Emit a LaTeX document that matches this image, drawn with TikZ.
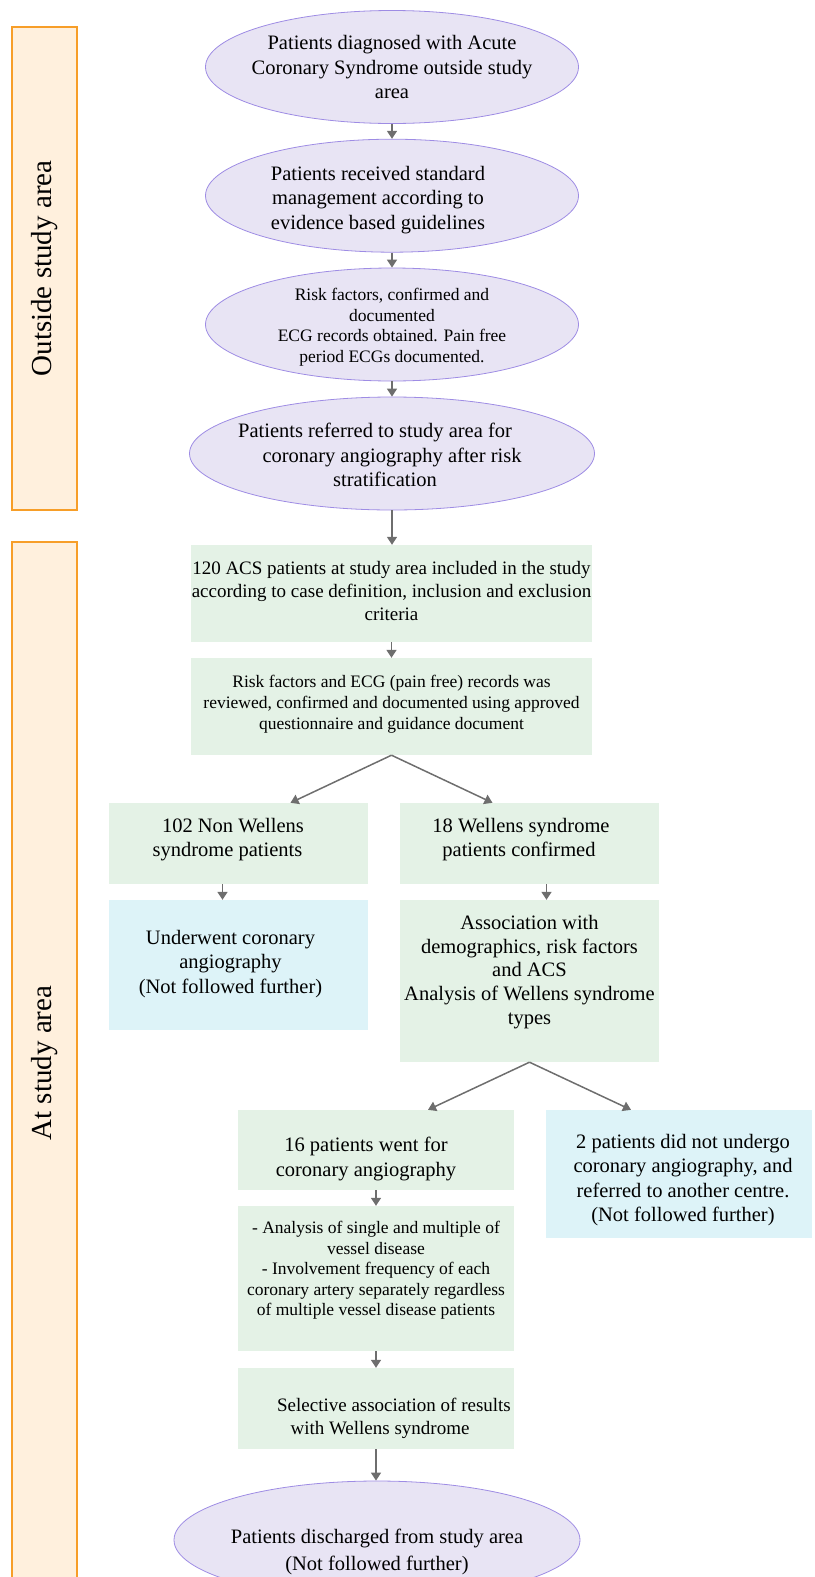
\documentclass[tikz,border=0pt]{standalone}
\usepackage{fontspec}
\setmainfont{Liberation Serif}
\usetikzlibrary{shapes.geometric,arrows.meta}

\definecolor{ovalfill}{RGB}{232,228,244}
\definecolor{ovalline}{RGB}{158,140,228}
\definecolor{boxgreen}{RGB}{228,242,230}
\definecolor{boxblue}{RGB}{221,243,248}
\definecolor{barfill}{RGB}{255,240,221}
\definecolor{barline}{RGB}{247,158,40}
\definecolor{arrowgray}{RGB}{110,110,110}

\tikzset{
    oval/.style={ellipse, draw=ovalline, fill=ovalfill, line width=0.8pt, minimum width=373pt, minimum height=113pt, inner sep=0pt},
    greenbox/.style={rectangle, fill=boxgreen, inner sep=0pt},
    bluebox/.style={greenbox, fill=boxblue},
    boxtext/.style={align=center, inner sep=0pt, font=\fontsize{20.5}{24.4}\selectfont},
    smalltext/.style={boxtext, font=\fontsize{17.5}{20.5}\selectfont},
    sidebar/.style={rectangle, draw=barline, fill=barfill, line width=1.3pt, rotate=90, minimum height=65pt, inner sep=0pt, font=\fontsize{29}{34}\selectfont},
    flow/.style={draw=arrowgray, line width=1.5pt, -{Triangle[length=8pt,width=10pt]}},
}

\begin{document}
\begin{tikzpicture}[x=1pt,y=-1pt]
    \useasboundingbox (0,0) rectangle (814,1577);

    % side bars
    \node[sidebar, minimum width=483pt] (outside) at (44.5,268.5) {Outside study area};
    \node[sidebar, minimum width=1042pt] (atarea) at (44.5,1063) {At study area};

    % outside study area
    \node[oval] (e1) at (392,67) {};
    \node[boxtext] (e1t) at (e1.center) {Patients diagnosed with Acute\\Coronary Syndrome outside study\\area};
    \node[oval] (e2) at (392,195.7) {};
    \node[boxtext, xshift=-14pt, yshift=-4pt] (e2t) at (e2.center) {Patients received standard\\management according to\\evidence based guidelines};
    \node[oval] (e3) at (392,324.5) {};
    \node[smalltext, yshift=-2.5pt] (e3t) at (e3.center) {Risk factors, confirmed and\\documented\\ECG records obtained. Pain free\\period ECGs documented.};
    \node[oval, minimum width=405pt] (e4) at (392,453.5) {};
    \node[boxtext, yshift=-1.5pt] (e4t) at (e4.center) {Patients referred to study area for\hspace*{34pt}\\coronary angiography after risk\hspace*{28pt}\\stratification\hspace*{14pt}};

    % at study area
    \node[greenbox, minimum width=401pt, minimum height=97pt] (box1) at (391.5,593.5) {};
    \node[boxtext, font=\fontsize{19}{23}\selectfont, yshift=3pt] (box1t) at (box1.center) {120 ACS patients at study area included in the study\\according to case definition, inclusion and exclusion\\criteria};
    \node[greenbox, minimum width=401pt, minimum height=97pt] (box2) at (391.5,706.5) {};
    \node[boxtext, font=\fontsize{17.5}{21}\selectfont, yshift=2pt] (box2t) at (box2.center) {Risk factors and ECG (pain free) records was\\reviewed, confirmed and documented using approved\\questionnaire and guidance document};
    \node[greenbox, minimum width=259pt, minimum height=81pt] (box3) at (238.5,843.5) {};
    \node[boxtext, yshift=4pt] (box3t) at (box3.center) {102 Non Wellens\hspace*{11pt}\\syndrome patients\hspace*{22pt}};
    \node[greenbox, minimum width=259pt, minimum height=81pt] (box4) at (529.5,843.5) {};
    \node[boxtext, yshift=4pt] (box4t) at (box4.center) {18 Wellens syndrome\hspace*{17pt}\\patients confirmed\hspace*{21pt}};
    \node[bluebox, minimum width=259pt, minimum height=130pt] (box5) at (238.5,965) {};
    \node[boxtext, xshift=-8pt, yshift=1pt] (box5t) at (box5.center) {Underwent coronary\\angiography\\(Not followed further)};
    \node[greenbox, minimum width=259pt, minimum height=162pt] (box6) at (529.5,981) {};
    \node[boxtext, font=\fontsize{20.5}{23.8}\selectfont, yshift=9pt] (box6t) at (box6.center) {Association with\\demographics, risk factors\\and ACS\\Analysis of Wellens syndrome\\types};
    \node[greenbox, minimum width=276pt, minimum height=80pt] (box7) at (376,1150) {};
    \node[boxtext, xshift=-10pt, yshift=-9pt] (box7t) at (box7.center) {16 patients went for\\coronary angiography};
    \node[bluebox, minimum width=266pt, minimum height=128pt] (box8) at (679,1174) {};
    \node[boxtext, xshift=4pt, yshift=-6pt] (box8t) at (box8.center) {2 patients did not undergo\\coronary angiography, and\\referred to another centre.\\(Not followed further)};
    \node[greenbox, minimum width=276pt, minimum height=145pt] (box9) at (376,1278.5) {};
    \node[smalltext, yshift=8pt] (box9t) at (box9.center) {- Analysis of single and multiple of\\vessel disease\\- Involvement frequency of each\\coronary artery separately regardless\\of multiple vessel disease patients};
    \node[greenbox, minimum width=276pt, minimum height=81pt] (box10) at (376,1408.5) {};
    \node[boxtext, font=\fontsize{19}{22.7}\selectfont, yshift=-10pt] (box10t) at (box10.center) {\hspace*{36pt}Selective association of results\\\hspace*{8pt}with Wellens syndrome};
    \node[oval, minimum width=406pt, minimum height=118pt] (e5) at (377,1540) {};
    \node[boxtext, font=\fontsize{20.5}{26.5}\selectfont, yshift=-12pt] (e5t) at (e5.center) {Patients discharged from study area\\(Not followed further)};

    % connectors
    \draw[flow] (e1) -- (e2);
    \draw[flow] (e2) -- (e3);
    \draw[flow] (e3) -- (e4);
    \draw[flow] (e4.south) -- (e4.south |- box1.north);
    \draw[flow] (box1) -- (box2);
    \draw[flow] (box2.south) -- ([xshift=52pt]box3.north);
    \draw[flow] (box2.south) -- ([xshift=-37pt]box4.north);
    \draw[flow] ([xshift=-16pt]box3.south) -- ([xshift=-16pt]box5.north);
    \draw[flow] ([xshift=17pt]box4.south) -- ([xshift=17pt]box6.north);
    \draw[flow] (box6.south) -- ([xshift=52pt]box7.north);
    \draw[flow] (box6.south) -- ([xshift=-48pt]box8.north);
    \draw[flow] (box7) -- (box9);
    \draw[flow] (box9) -- (box10);
    \draw[flow] (box10.south) -- (box10.south |- e5.north);
\end{tikzpicture}
\end{document}
